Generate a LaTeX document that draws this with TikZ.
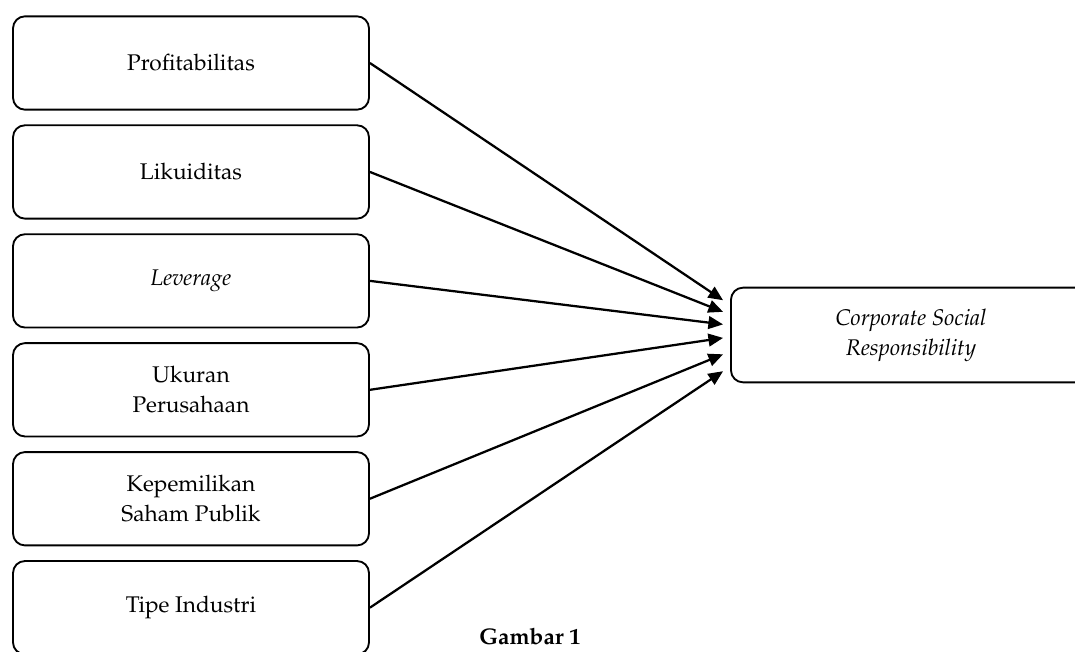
\documentclass[tikz,border=0pt]{standalone}
\usepackage[T1]{fontenc}
\usepackage{mathpazo}
\usetikzlibrary{positioning,calc,arrows.meta}

\tikzset{
    varbox/.style={draw, rounded corners=9pt, line width=1.4pt,
        minimum width=267pt, minimum height=70pt, align=center,
        font=\fontsize{17}{22.5}\selectfont},
    conn/.style={-{Triangle[length=11pt,width=9.5pt]}, line width=1.7pt}
}

\begin{document}
\begin{tikzpicture}[x=0.75pt, y=-0.75pt, node distance=10.3pt]
    \useasboundingbox (0,0) rectangle (1075,651);

    % independent variables
    \node[varbox] (prof) at (191,63) {Profitabilitas};
    \node[varbox, below=of prof] (lik) {Likuiditas};
    \node[varbox, below=of lik] (lev) {\textit{Leverage}};
    \node[varbox, below=of lev] (ukuran) {Ukuran\\Perusahaan};
    \node[varbox, below=of ukuran] (kepemilikan) {Kepemilikan\\Saham Publik};
    \node[varbox, below=of kepemilikan] (tipe) {Tipe Industri};

    % dependent variable
    \node[varbox, minimum width=270pt, minimum height=71pt,
        font=\itshape\fontsize{17}{22.5}\selectfont] (csr) at (911,335)
        {Corporate Social\\Responsibility};

    \foreach \src/\f in {prof/0.14, lik/0.26, lev/0.39, ukuran/0.53, kepemilikan/0.70, tipe/0.875}{
        \draw[conn] (\src.east) -- ($(csr.north west)!\f!(csr.south west) + (-7,0)$);
    }

    \node[font=\bfseries\fontsize{17}{22.5}\selectfont, anchor=base, inner sep=0pt] (caption) at (530,644) {Gambar 1};
\end{tikzpicture}
\end{document}
